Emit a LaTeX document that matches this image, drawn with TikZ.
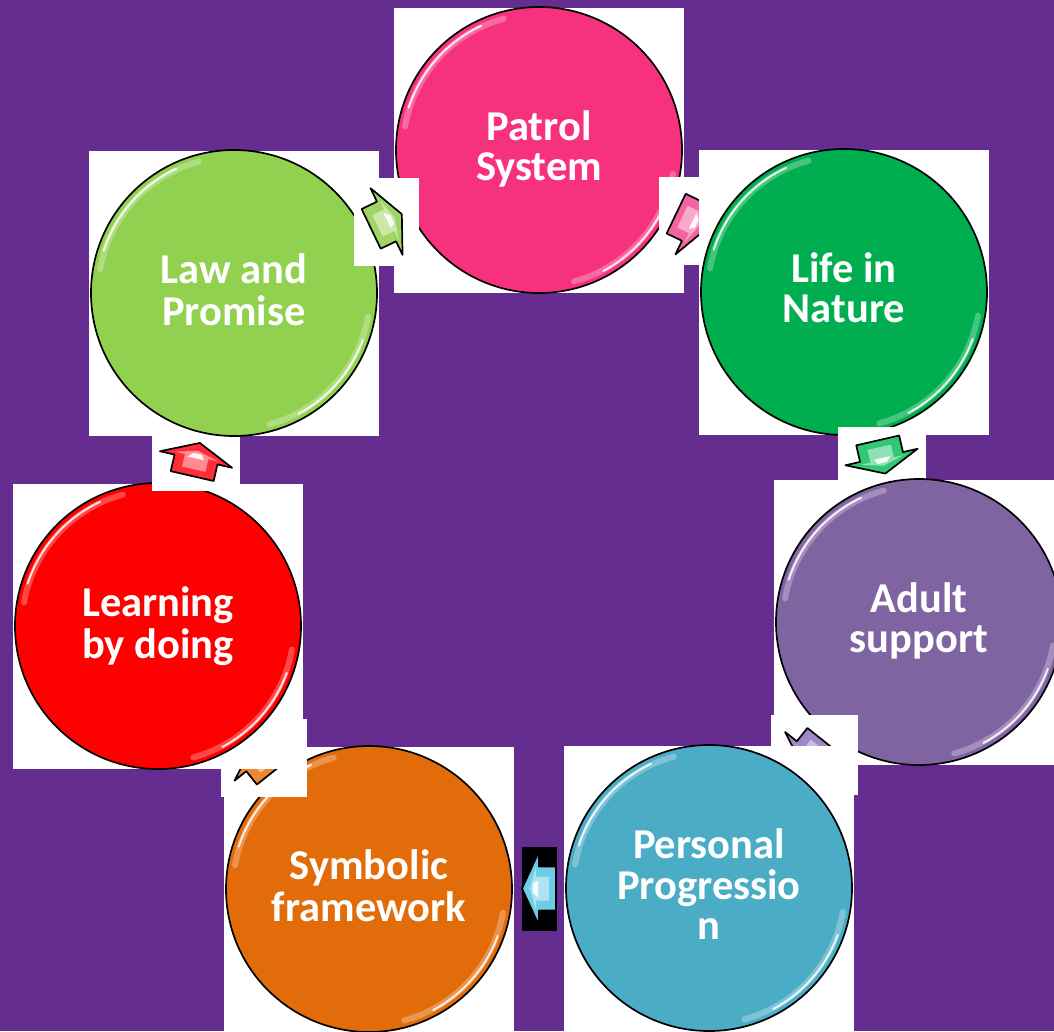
\documentclass[tikz,border=0pt]{standalone}
\usepackage{fontspec}
\newfontfamily\calib{Carlito}
\usetikzlibrary{calc}
\definecolor{bgpurple}{RGB}{102,45,145}
\definecolor{cPatrol}{RGB}{246,50,126}
\definecolor{cLife}{RGB}{0,174,80}
\definecolor{cAdult}{RGB}{128,100,162}
\definecolor{cPers}{RGB}{75,172,198}
\definecolor{cSym}{RGB}{227,108,10}
\definecolor{cLearn}{RGB}{255,0,0}
\definecolor{cLaw}{RGB}{146,208,80}
\definecolor{aPink}{RGB}{244,100,160}
\definecolor{aGreenB}{RGB}{50,200,115}
\definecolor{aPurple}{RGB}{160,135,198}
\definecolor{aCyan}{RGB}{110,205,230}
\definecolor{aOrange}{RGB}{238,135,50}
\definecolor{aRed}{RGB}{255,45,55}
\definecolor{aGreenA}{RGB}{160,212,100}
\tikzset{
  blockarrow/.pic={
    \fill[#1] (-17,-22) -- (0,-22) -- (0,-37) -- (17,0) -- (0,37) -- (0,22) -- (-17,22) -- cycle;
    \fill[#1!55!white] (-10,-12) -- (3,-12) -- (3,-22) -- (9,0) -- (3,22) -- (3,12) -- (-10,12) -- cycle;
    \fill[white,opacity=.9] (1,-9) -- (6,-4) -- (6,5) -- (1,8) -- cycle;
    \draw[black,line width=1.7pt,line join=round] (-17,-22) -- (0,-22) -- (0,-37) -- (17,0) -- (0,37) -- (0,22) -- (-17,22) -- cycle;
  },
  bubble/.style={circle, draw=black, line width=1.7pt, minimum size=286pt, inner sep=0pt},
  lbl/.style={text=white, font=\calib\bfseries\fontsize{42.5}{39.5}\selectfont, anchor=base, inner sep=0pt},
  hlsoft/.style={draw=white, line width=6pt, opacity=0.28, line cap=round},
  hlhard/.style={draw=white, line width=2pt, opacity=0.85, line cap=round}
}
\newcommand{\drawbubble}[2]{%
  \fill[white] ($(#1c)+(-145,-142.5)$) rectangle ($(#1c)+(145,142.5)$);
  \node[bubble, fill=#2] (#1) at (#1c) {};
  \draw[hlsoft] (#1.center) ++(190:136) arc[start angle=190, end angle=255, radius=136];
  \draw[hlhard] (#1.center) ++(198:137) arc[start angle=198, end angle=245, radius=137];
  \draw[hlsoft] (#1.center) ++(10:136) arc[start angle=10, end angle=75, radius=136];
  \draw[hlhard] (#1.center) ++(20:137) arc[start angle=20, end angle=62, radius=137];
}
\newcommand{\cyclearrow}[8]{%
  \coordinate (#1) at ($(#2c)!0.5!(#3c)$);
  \fill[#8] ($(#1)+(-#5,-#6)$) rectangle ($(#1)+(#5,#6)$);
  \pic[rotate=#4] at (#1) {blockarrow=#7};
}
\begin{document}
\begin{tikzpicture}[x=1pt,y=-1pt]
\useasboundingbox (0,0) rectangle (1054,1031);
\clip (0,0) rectangle (1054,1031);
\fill[bgpurple] (0,0) rectangle (1054,1031);
\coordinate (patrolc) at (539,150);
\coordinate (lifec) at (844,292);
\coordinate (adultc) at (919,622);
\coordinate (persc) at (709,888);
\coordinate (symc) at (369,889);
\coordinate (learnc) at (158,626);
\coordinate (lawc) at (234,293);

\drawbubble{patrol}{cPatrol}
\node[lbl] (patrolT) at ($(patrol)+(0,-9.5)$) {\begin{tabular}[t]{@{}c@{}}Patrol\\System\end{tabular}};
\cyclearrow{m1}{patrol}{life}{-25.7}{32.5}{44}{aPink}{white}

\drawbubble{life}{cLife}
\node[lbl] (lifeT) at ($(life)+(0,-9.5)$) {\begin{tabular}[t]{@{}c@{}}Life in\\Nature\end{tabular}};
\cyclearrow{m2}{life}{adult}{-77.1}{44}{30}{aGreenB}{white}

\drawbubble{adult}{cAdult}
\node[lbl] (adultT) at ($(adult)+(0,-9.5)$) {\begin{tabular}[t]{@{}c@{}}Adult\\support\end{tabular}};
\cyclearrow{m3}{adult}{pers}{-128.6}{43.5}{40}{aPurple}{white}

\drawbubble{pers}{cPers}
\node[lbl] (persT) at ($(pers)+(0,-30)$) {\begin{tabular}[t]{@{}c@{}}Personal\\Progressio\\n\end{tabular}};
\cyclearrow{m4}{pers}{sym}{-180}{17.5}{42}{aCyan}{black}

\drawbubble{sym}{cSym}
\node[lbl] (symT) at ($(sym)+(0,-9.5)$) {\begin{tabular}[t]{@{}c@{}}Symbolic\\framework\end{tabular}};
\cyclearrow{m5}{sym}{learn}{-231.4}{43}{39}{aOrange}{white}

\drawbubble{learn}{cLearn}
\node[lbl] (learnT) at ($(learn)+(0,-9.5)$) {\begin{tabular}[t]{@{}c@{}}Learning\\by doing\end{tabular}};
\cyclearrow{m6}{learn}{law}{-282.9}{44}{31}{aRed}{white}

\drawbubble{law}{cLaw}
\node[lbl] (lawT) at ($(law)+(0,-9.5)$) {\begin{tabular}[t]{@{}c@{}}Law and\\Promise\end{tabular}};
\cyclearrow{m7}{law}{patrol}{-334.3}{32.5}{44}{aGreenA}{white}
\end{tikzpicture}
\end{document}
